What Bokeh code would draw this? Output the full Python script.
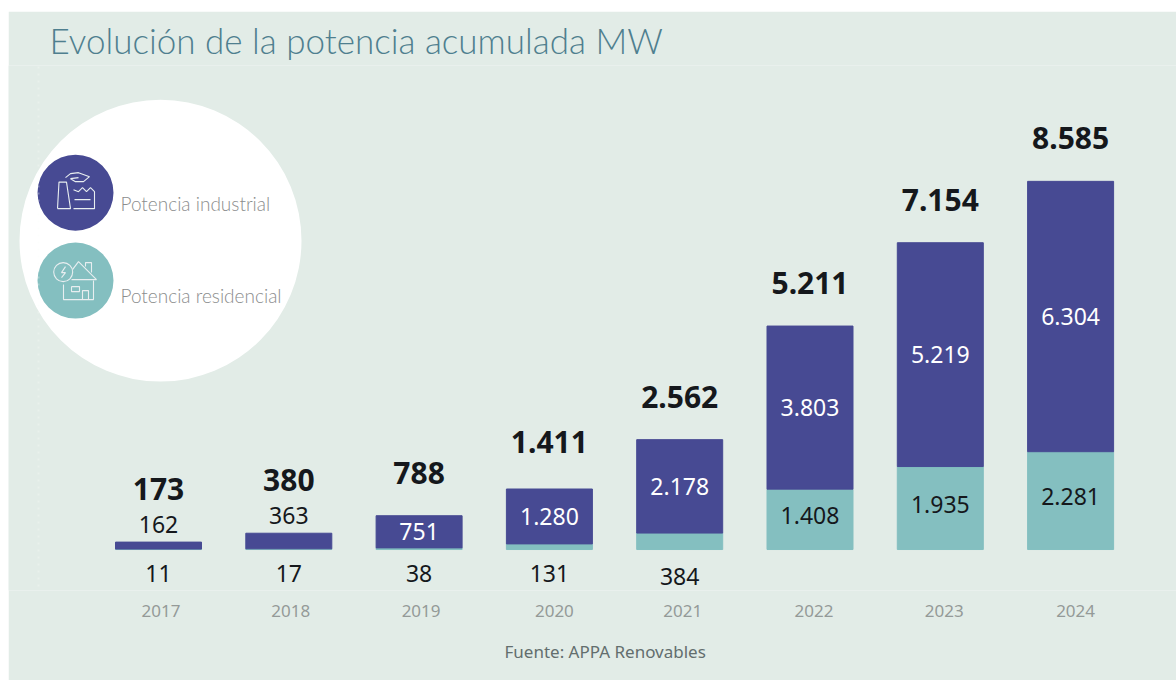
from bokeh.plotting import figure
from bokeh.models import ColumnDataSource, Range1d, FixedTicker, LinearAxis, Title, PolyAnnotation, NumeralTickFormatter
from bokeh.core.properties import value
from bokeh.embed import file_html
from bokeh.resources import INLINE

years = [2017, 2018, 2019, 2020, 2021, 2022, 2023, 2024]
residencial = [11, 17, 38, 131, 384, 1408, 1935, 2281]
industrial = [162, 363, 751, 1280, 2178, 3803, 5219, 6304]
total = [173, 380, 788, 1411, 2562, 5211, 7154, 8585]
total_labels = ["173", "380", "788", "1.411", "2.562", "5.211", "7.154", "8.585"]
ind_labels = ["162", "363", "751", "1.280", "2.178", "3.803", "5.219", "6.304"]
res_labels = ["11", "17", "38", "131", "384", "1.408", "1.935", "2.281"]
series_names = ["Potencia industrial", "Potencia residencial"]
title_text = "Evolución de la potencia acumulada MW"
source_text = "Fuente: APPA Renovables"

BG, INDIGO, TEAL = "#e2ece7", "#474a93", "#84bfc0"
INK = "#15181c"
F = "Noto Sans"
LIGHT = "Lato Light"

# page-pixel calibration of the two scales
PX0, PX_YEAR = 158.0, 130.3
PY0, PX_UNIT = 550.0, 0.0429
FRAME_TOP, FRAME_BOTTOM = 65.8, 591.0
X = lambda px: 2017 + (px - PX0) / PX_YEAR
Y = lambda py: (PY0 - py) / PX_UNIT

p = figure(width=1168, height=669, output_backend="svg", toolbar_location=None,
           x_range=Range1d(X(8), X(1176)), y_range=Range1d(Y(FRAME_BOTTOM), Y(FRAME_TOP)),
           background_fill_color=BG, border_fill_color=BG, outline_line_color=None,
           min_border=0, x_axis_location=None, y_axis_location=None)
p.margin = (11, 0, 0, 8)
p.grid.visible = False

p.title.text = title_text
p.title.text_font = LIGHT
p.title.text_font_style = "normal"
p.title.text_font_size = "35px"
p.title.text_color = "#4f7f8f"
p.title.offset = 41
p.title.standoff = 10

label_nudge_px = [2.5, 2, 2, 5, 3, 4, 4, 5]
axis = LinearAxis(ticker=FixedTicker(ticks=[y + n / PX_YEAR for y, n in zip(years, label_nudge_px)]),
                  formatter=NumeralTickFormatter(format="0"),
                  axis_line_color=None, major_tick_line_color=None, minor_tick_line_color=None,
                  major_label_text_font=F, major_label_text_font_size="17px",
                  major_label_text_color="#949a98", major_label_standoff=8)
p.add_layout(axis, "below")
p.add_layout(Title(text=source_text, text_font=F, text_font_style="normal", text_font_size="17px",
                   text_color="#636e6e", offset=496, standoff=36), "below")

# dotted guide on the left edge (other edges of the polygon lie off the canvas)
p.add_layout(PolyAnnotation(xs=[30, 30, -50, -50], ys=[-10, 680, 680, -10], xs_units="screen", ys_units="screen",
                            fill_alpha=0, line_color="#f8fbfa", line_width=2, line_dash="2 5"))

src = ColumnDataSource(dict(
    x=years, res=residencial, ind=industrial, tot=total, tl=total_labels, il=ind_labels, rl=res_labels,
    res_mid=[r / 2 if r > 1000 else 0 for r in residencial],
    res_off=[24, 24, 24, 24, 27, -4, -4, -4],
    ind_mid=[r + i / 2 if i > 500 else t for r, i, t in zip(residencial, industrial, total)],
    ind_off=[-18 if i < 500 else 0 for i in industrial],
    ind_col=[INK if i < 500 else "white" for i in industrial],
    tot_off=[-53, -53, -43, -47, -43, -43, -43, -43],
))
bw = 86 / PX_YEAR
p.vbar(x="x", bottom=0, top="res", width=bw, color=TEAL, source=src, legend_label=None) if False else None
p.vbar(x="x", bottom=0, top="res", width=bw, color=TEAL, source=src)
p.vbar(x="x", bottom="res", top="tot", width=bw, color=INDIGO, source=src)

common = dict(source=src, text_align="center", text_baseline="middle", text_font=value(F))
p.text(x="x", y="tot", text="tl", y_offset="tot_off", text_font_size="30px", text_font_style="bold",
       text_color=INK, **common)
p.text(x="x", y="ind_mid", text="il", y_offset="ind_off", text_font_size="23px", text_color="ind_col", **common)
p.text(x="x", y="res_mid", text="rl", y_offset="res_off", text_font_size="23px", text_color=INK, **common)

# legend disc and badges
p.scatter([X(160)], [Y(241)], size=282, color="white", line_color=None, level="underlay")
p.scatter([X(75)], [Y(193)], size=76, color=INDIGO, line_color=None)
p.scatter([X(75)], [Y(281)], size=76, color=TEAL, line_color=None)
for name, py in zip(series_names, [204, 296]):
    p.text([X(120)], [Y(py)], text=[name], text_font=value(LIGHT), text_font_size="19px", text_color="#8b8d8d",
           text_baseline="middle", text_align="left")

# badge pictograms, in page pixels
icons = [
    [(57, 209), (58.5, 182.5), (66, 182.5), (70, 209), (57, 209)],
    [(73, 209), (94, 209), (94, 192), (90, 188), (86, 192), (82, 188), (78, 192), (73, 190)],
    [(74, 200), (90, 200)],
    [(65, 178), (70, 174), (78, 173), (89, 177), (83, 182), (75, 182), (70, 179), (78, 178)],
    [(72, 270), (78, 262), (96, 280), (71, 280)],
    [(63, 285), (63, 300), (93, 300), (93, 281)],
    [(71, 287), (79, 287), (79, 292), (71, 292), (71, 287)],
    [(82, 300), (82, 291), (88, 291), (88, 300)],
    [(85, 267), (85, 263), (91, 263), (91, 273)],
    [(65, 267), (61, 273), (65, 273), (61, 278)],
]
p.multi_line([[X(a) for a, _ in s] for s in icons], [[Y(b) for _, b in s] for s in icons],
             line_color="#e8eef0", line_width=1.1)
p.scatter([X(62.7)], [Y(272.5)], size=19, fill_color=None, line_color="#e8eef0", line_width=1.1)

open("out.html", "w").write(file_html(p, INLINE))
